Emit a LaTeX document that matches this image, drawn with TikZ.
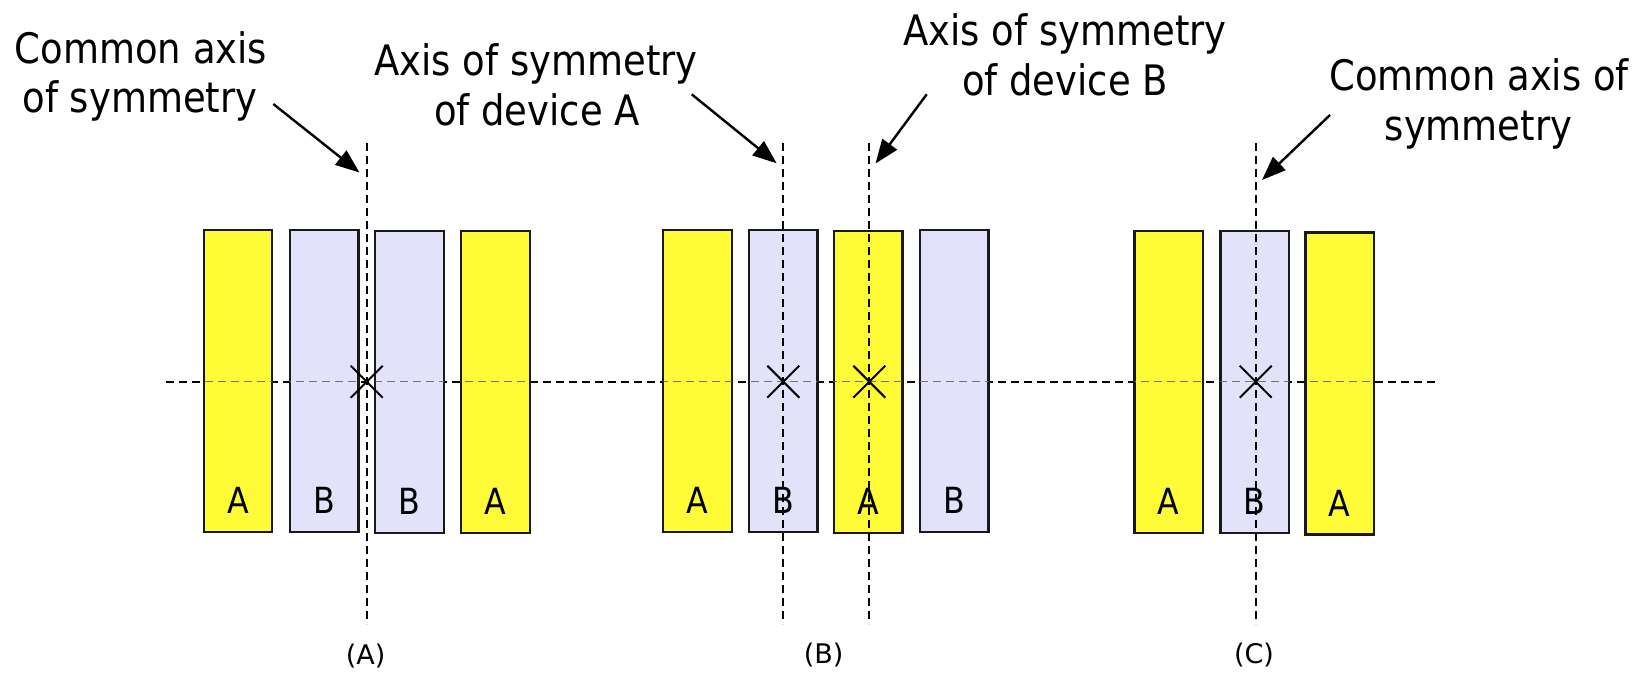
\documentclass[tikz,border=0pt]{standalone}
\usepackage{fontspec}
\setmainfont{DejaVu Sans}[FakeStretch=0.88]
\newfontfamily\capfont{DejaVu Sans}
\usetikzlibrary{arrows.meta,calc}
\definecolor{ayel}{RGB}{255,252,55}
\definecolor{bblu}{RGB}{226,226,250}
\tikzset{
 dev/.style={draw=black!90,line width=2.2pt,inner sep=0pt,outer sep=0pt,minimum width=68.5pt,minimum height=302pt},
 deva/.style={dev,fill=ayel},
 devb/.style={dev,fill=bblu},
 devlbl/.style={anchor=base,inner sep=0pt,font=\fontsize{36}{40}\selectfont},
 axisline/.style={line width=1.9pt,dash pattern=on 8pt off 5pt},
 faintaxis/.style={line width=1.1pt,draw=black!55,dash pattern=on 8pt off 5pt},
 callout/.style={anchor=base,inner sep=0pt,font=\fontsize{42}{50}\selectfont},
 pointer/.style={line width=2.4pt,-{Triangle[length=24pt,width=18pt]}},
 xmark/.style={line width=2pt},
 caption/.style={font=\capfont\fontsize{27}{30}\selectfont,inner sep=0pt}
}
\begin{document}
\begin{tikzpicture}[x=1pt,y=-1pt]
\path[use as bounding box] (0,0) rectangle (1648,673);
% horizontal axis
\coordinate (hl) at (166,381.7);
\coordinate (hr) at (1436,381.7);
\draw[axisline] (hl) -- (hr);
% devices
\node[deva] (a1) at (238,381.3) {};
\node[devb] (b1) at (324.2,381.3) {};
\node[devb] (b2) at (409.5,382) {};
\node[deva] (a2) at (495.5,382) {};
\node[deva] (a3) at (697.5,381.3) {};
\node[devb] (b3) at (783.2,381.3) {};
\node[deva] (a4) at (868.3,382) {};
\node[devb] (b4) at (954.2,381.3) {};
\node[deva] (a5) at (1168.8,382) {};
\node[devb] (b5) at (1254.7,382) {};
\node[deva] (a6) at (1339.8,383.5) {};
\begin{scope}
\clip (a1.south west) rectangle (a1.north east) (b1.south west) rectangle (b1.north east)
      (b2.south west) rectangle (b2.north east) (a2.south west) rectangle (a2.north east)
      (a3.south west) rectangle (a3.north east) (b3.south west) rectangle (b3.north east)
      (a4.south west) rectangle (a4.north east) (b4.south west) rectangle (b4.north east)
      (a5.south west) rectangle (a5.north east) (b5.south west) rectangle (b5.north east)
      (a6.south west) rectangle (a6.north east);
\draw[faintaxis] (hl) -- (hr);
\end{scope}
% device letters
\foreach \n/\t in {a1/A,b1/B,b2/B,a2/A,a3/A,b3/B,a4/A,b4/B,a5/A,b5/B,a6/A}
  \node[devlbl] (l\n) at ($(\n.south)+(0,-18.5)$) {\t};
% vertical axes
\coordinate (vAt) at (366.7,143);  \coordinate (vAb) at (366.7,624);
\coordinate (vB1t) at (783.3,143); \coordinate (vB1b) at (783.3,624);
\coordinate (vB2t) at (869.3,143); \coordinate (vB2b) at (869.3,624);
\coordinate (vCt) at (1255.7,143); \coordinate (vCb) at (1255.7,624);
\draw[axisline] (vAt) -- (vAb);
\draw[axisline] (vB1t) -- (vB1b);
\draw[axisline] (vB2t) -- (vB2b);
\draw[axisline] (vCt) -- (vCb);
% centroid crosses
\coordinate (cA) at (366.7,381.7);
\coordinate (cB1) at (783.3,381.7);
\coordinate (cB2) at (869.3,381.7);
\coordinate (cC) at (1255.7,381.7);
\foreach \c in {cA,cB1,cB2,cC}{
  \draw[xmark] ($(\c)+(-16,-16)$) -- ($(\c)+(16,16)$);
  \draw[xmark] ($(\c)+(-16,16)$) -- ($(\c)+(16,-16)$);
}
% callouts
\node[callout] (t1a) at (141,63) {Common axis};
\node[callout] (t1b) at (140,112) {of symmetry};
\node[callout] (t2a) at (536,75) {Axis of symmetry};
\node[callout] (t2b) at (537,125) {of device A};
\node[callout] (t3a) at (1065,45) {Axis of symmetry};
\node[callout] (t3b) at (1065,95) {of device B};
\node[callout] (t4a) at (1479,90) {Common axis of};
\node[callout] (t4b) at (1478.5,140) {symmetry};
% pointers
\coordinate (p1s) at (273.3,104);  \coordinate (p1e) at (359.5,172.5);
\coordinate (p2s) at (691.7,94.3); \coordinate (p2e) at (776.7,163.3);
\coordinate (p3s) at (926.7,94.3); \coordinate (p3e) at (875.5,163.5);
\coordinate (p4s) at (1330,115);   \coordinate (p4e) at (1262,180);
\draw[pointer] (p1s) -- (p1e);
\draw[pointer] (p2s) -- (p2e);
\draw[pointer] (p3s) -- (p3e);
\draw[pointer] (p4s) -- (p4e);
% captions
\node[caption] (capA) at (365.7,656) {(A)};
\node[caption] (capB) at (823.6,655) {(B)};
\node[caption] (capC) at (1254,655) {(C)};
\end{tikzpicture}
\end{document}
